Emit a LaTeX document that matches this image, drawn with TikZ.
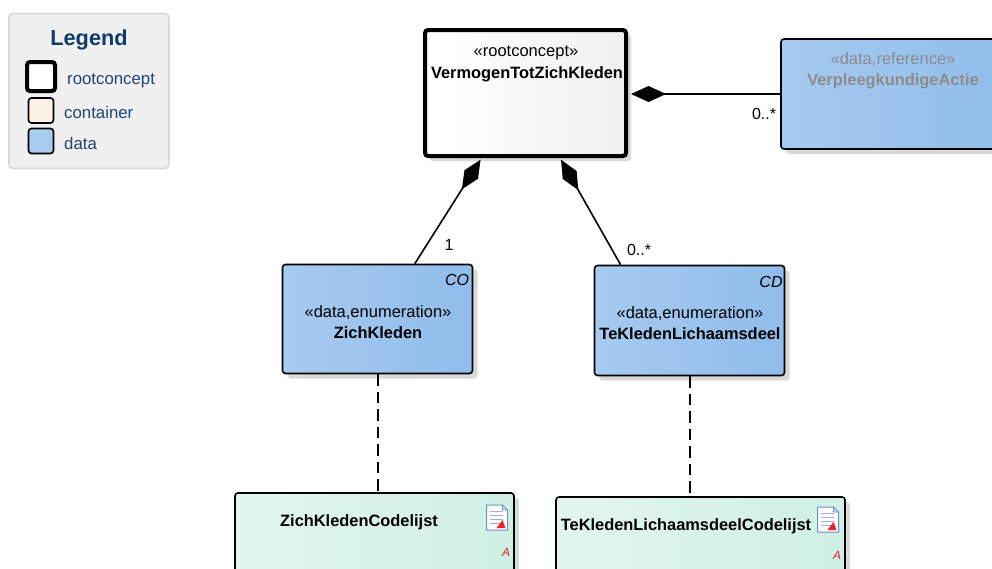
\documentclass[tikz,border=0pt]{standalone}
\usepackage{fontspec}
\setmainfont{Liberation Sans}
\usepackage{tikz}
\usetikzlibrary{arrows.meta}
\usetikzlibrary{shadows}

\definecolor{legendblue}{HTML}{0F3A6B}
\definecolor{legendtext}{HTML}{1F4474}
\definecolor{legendgray}{HTML}{F0F0F0}
\definecolor{containerfill}{HTML}{FAF0E4}
\definecolor{datafill}{HTML}{A8CBF0}
\definecolor{dataedge}{HTML}{7FB3E8}
\definecolor{dataright}{HTML}{85B6EA}
\definecolor{codeedge}{HTML}{BFE8DA}
\definecolor{codelight}{HTML}{E3F6F0}
\definecolor{coderight}{HTML}{C6ECDF}
\definecolor{iconblue}{HTML}{6F8FCF}
\definecolor{flagred}{HTML}{EE2222}

\pgfdeclarehorizontalshading{rootshade}{100bp}{color(0bp)=(black!10); color(12bp)=(white); color(28bp)=(white); color(100bp)=(black!9)}
\pgfdeclarehorizontalshading{datashade}{100bp}{color(0bp)=(dataedge); color(22bp)=(datafill); color(100bp)=(dataright)}
\pgfdeclarehorizontalshading{codeshade}{100bp}{color(0bp)=(codeedge); color(22bp)=(codelight); color(100bp)=(coderight)}

\tikzset{
	boxshadow/.style={drop shadow={shadow xshift=5pt,shadow yshift=-5pt,fill=black!15,opacity=1}},
	rootbox/.style={draw,line width=4pt,rounded corners=3pt,shading=rootshade,boxshadow,
		minimum width=201pt,minimum height=126pt,inner sep=0pt},
	databox/.style={draw,line width=1.6pt,rounded corners=3pt,shading=datashade,boxshadow,inner sep=0pt},
	codebox/.style={draw,line width=1.6pt,rounded corners=3pt,shading=codeshade,boxshadow,inner sep=0pt},
	swatch/.style={draw,line width=1.6pt,rounded corners=3pt,inner sep=0pt,minimum width=25pt,minimum height=25pt},
	stereo/.style={font=\fontsize{16.5}{19}\selectfont,inner sep=0pt},
	boxname/.style={font=\fontsize{16.4}{19}\selectfont\bfseries,inner sep=0pt},
	legendlabel/.style={font=\fontsize{16.8}{19}\selectfont,text=legendtext,inner sep=0pt,anchor=west},
	mult/.style={font=\fontsize{16}{19}\selectfont,inner sep=0pt},
	flag/.style={font=\fontsize{16}{19}\selectfont\itshape,inner sep=0pt},
	redflag/.style={font=\fontsize{12}{14}\selectfont\itshape,text=flagred,inner sep=0pt},
	compo/.style={line width=1.6pt,{Diamond[length=35pt,width=16pt]}-},
	realize/.style={line width=2pt,dash pattern=on 11.5pt off 6pt}
}

% small document icon, anchored at its top left
\newcommand{\docicon}[2]{
	\draw[draw=iconblue,fill=white,line width=1pt] (#1,#2)--++(16,0)--++(5,5)--++(0,20)--++(-21,0)--cycle;
	\draw[draw=iconblue,fill=iconblue!30,line width=0.6pt] (#1+16,#2)--++(0,5)--++(5,0)--cycle;
	\foreach \rowy in {6,10,14,18}
		\draw[iconblue!70,line width=1pt] (#1+3,#2+\rowy)--++(13,0);
	\fill[flagred] (#1+10,#2+23)--(#1+16,#2+15)--(#1+19,#2+23)--cycle;
}

\begin{document}
\begin{tikzpicture}[x=1pt,y=-1pt]
\useasboundingbox (0,0) rectangle (992,568);
\clip (0,0) rectangle (992,568);

%legend
\node[draw=black!15,line width=1.6pt,fill=legendgray,rounded corners=4pt,minimum width=160pt,minimum height=155pt,inner sep=0pt] (legend) at (89,91) {};
\node[font=\fontsize{21.7}{25}\selectfont\bfseries,text=legendblue,inner sep=0pt] (legendtitle) at (89,40) {Legend};
\node[swatch,line width=4pt,fill=white,minimum width=28pt,minimum height=29pt] (swroot) at (41,76.5) {};
\node[swatch,fill=containerfill] (swcontainer) at (41,110.5) {};
\node[swatch,fill=datafill] (swdata) at (41,141) {};
\node[legendlabel] (lblroot) at (67,81) {rootconcept};
\node[legendlabel] (lblcontainer) at (64,112) {container};
\node[legendlabel] (lbldata) at (64,143) {data};

%boxes
\node[rootbox] (root) at (525.5,93) {};
\node[databox,minimum width=228pt,minimum height=110pt] (actie) at (895,94) {};
\node[databox,minimum width=190pt,minimum height=109pt] (zich) at (377.5,319) {};
\node[databox,minimum width=190pt,minimum height=110pt] (deel) at (689.5,320.5) {};
\node[codebox,minimum width=279pt,minimum height=140pt] (zichcode) at (374.5,563) {};
\node[codebox,minimum width=289pt,minimum height=140pt] (deelcode) at (700.5,567) {};

%box texts
\node[stereo] (rootst) at (526,53) {«rootconcept»};
\node[boxname] (rootnm) at (527,74) {VermogenTotZichKleden};
\node[stereo,text=black!45] (actiest) at (893,60) {«data,reference»};
\node[boxname,text=black!45] (actienm) at (893,81) {VerpleegkundigeActie};
\node[stereo] (zichst) at (378,313) {«data,enumeration»};
\node[boxname] (zichnm) at (378,333) {ZichKleden};
\node[flag] (zichfl) at (457,280) {CO};
\node[stereo] (deelst) at (690,314) {«data,enumeration»};
\node[boxname] (deelnm) at (690,334) {TeKledenLichaamsdeel};
\node[flag] (deelfl) at (771,282) {CD};
\node[boxname] (zichcodenm) at (359,522) {ZichKledenCodelijst};
\node[boxname] (deelcodenm) at (686,526) {TeKledenLichaamsdeelCodelijst};
\node[redflag] (zichcodefl) at (506,552) {A};
\node[redflag] (deelcodefl) at (837,555) {A};

%icons
\docicon{486.5}{505}
\docicon{817.5}{507}

%compositions
\draw[compo,shorten <=3pt] (root.east |- actie.west)--(actie.west);
\draw[compo,shorten <=2pt] (root.236.3)--(zich.56.4);
\draw[compo,shorten <=2pt] (root.298.1)--(deel.141.4);

%multiplicities
\node[mult] (multactie) at (764,114) {0..*};
\node[mult] (multzich) at (449,245) {1};
\node[mult] (multdeel) at (639,250) {0..*};

%realizations
\draw[realize] (zich.south)--(zich.south |- zichcode.north);
\draw[realize] (deel.south)--(deel.south |- deelcode.north);
\end{tikzpicture}
\end{document}
